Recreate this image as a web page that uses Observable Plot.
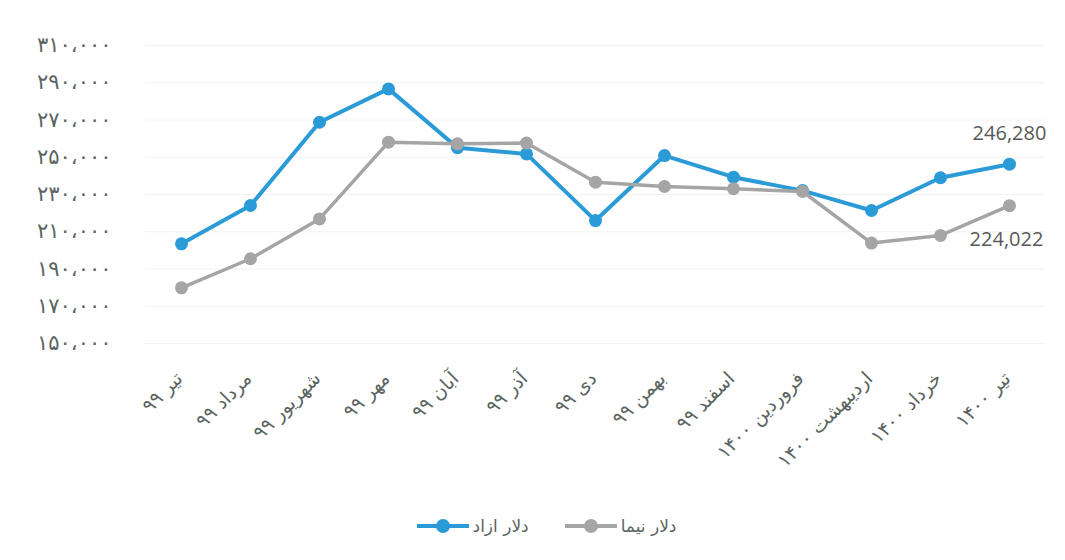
<!DOCTYPE html>
<html>
<head>
<meta charset="utf-8">
<script src="https://cdn.jsdelivr.net/npm/d3@7"></script>
<script src="https://cdn.jsdelivr.net/npm/@observablehq/plot@0.6"></script>
<style>
  html, body { margin: 0; padding: 0; background: #fff; }
  #chart { width: 1065px; }
  .legend { display: flex; justify-content: center; align-items: center; gap: 36px; margin-top: 16px;
    font-family: "DejaVu Sans", sans-serif; font-size: 17px; color: #5b6461; padding-left: 28px; }
  .item { display: flex; align-items: center; gap: 4px; }
  .sw { position: relative; width: 52px; height: 14px; }
  .sw .ln { position: absolute; left: 0; right: 0; top: 5px; height: 4px; }
  .sw .pt { position: absolute; left: 19px; top: 0; width: 14px; height: 14px; border-radius: 50%; }
</style>
</head>
<body>
<div id="chart"></div>
<script>
const months = ["تیر ۹۹","مرداد ۹۹","شهریور ۹۹","مهر ۹۹","آبان ۹۹","آذر ۹۹","دی ۹۹","بهمن ۹۹","اسفند ۹۹","فروردین ۱۴۰۰","اردیبهشت ۱۴۰۰","خرداد ۱۴۰۰","تیر ۱۴۰۰"];
const azad = [203500, 224100, 268800, 286700, 255100, 251800, 216000, 250900, 239300, 232100, 221400, 239000, 246280];
const nima = [179900, 195500, 216900, 258100, 257200, 257600, 236600, 234300, 233100, 231600, 203900, 208000, 224022];
const yTicks = [150000, 170000, 190000, 210000, 230000, 250000, 270000, 290000, 310000];
const yTickLabels = ["۱۵۰،۰۰۰","۱۷۰،۰۰۰","۱۹۰،۰۰۰","۲۱۰،۰۰۰","۲۳۰،۰۰۰","۲۵۰،۰۰۰","۲۷۰،۰۰۰","۲۹۰،۰۰۰","۳۱۰،۰۰۰"];
const seriesNames = ["دلار ازاد", "دلار نیما"];
const colors = ["#2b9bd8", "#a5a5a5"];

const azadData = months.map((m, i) => ({month: m, value: azad[i]}));
const nimaData = months.map((m, i) => ({month: m, value: nima[i]}));
const lastAzad = [azadData[azadData.length - 1]];
const lastNima = [nimaData[nimaData.length - 1]];
const fmt = d3.format(",");

const chart = Plot.plot({
  width: 1065,
  height: 500,
  marginTop: 45,
  marginBottom: 157,
  marginLeft: 145,
  marginRight: 20,
  style: {fontFamily: "DejaVu Sans, sans-serif", background: "#fff"},
  x: {type: "point", domain: months, padding: 0.5, label: null},
  y: {domain: [150000, 310000], label: null},
  marks: [
    Plot.gridY(yTicks, {stroke: "#f2f2f2", strokeOpacity: 1, strokeWidth: 1}),
    Plot.axisY(yTicks, {tickSize: 0, tickPadding: 34, fontSize: 21, fill: "#5b6461",
      tickFormat: d => yTickLabels[yTicks.indexOf(d)], label: null,
      style: {letterSpacing: "4px"}}),
    Plot.axisX({tickRotate: -45, tickSize: 0, tickPadding: 32, fontSize: 19, fill: "#5b6461", label: null, dx: -2}),
    Plot.line(azadData, {x: "month", y: "value", stroke: colors[0], strokeWidth: 4}),
    Plot.dot(azadData, {x: "month", y: "value", r: 6.5, fill: colors[0]}),
    Plot.line(nimaData, {x: "month", y: "value", stroke: colors[1], strokeWidth: 3.5}),
    Plot.dot(nimaData, {x: "month", y: "value", r: 6.5, fill: colors[1]}),
    Plot.text(lastAzad, {x: "month", y: "value", text: d => fmt(d.value), dy: -31,
      fontSize: 20, fill: "#595959", fontFamily: "Open Sans, sans-serif"}),
    Plot.text(lastNima, {x: "month", y: "value", text: d => fmt(d.value), dy: 34, dx: -3,
      fontSize: 20, fill: "#595959", fontFamily: "Open Sans, sans-serif"})
  ]
});
document.getElementById("chart").appendChild(chart);

const legend = document.createElement("div");
legend.className = "legend";
[0, 1].forEach(i => {
  const item = document.createElement("div");
  item.className = "item";
  item.innerHTML = `<div class="sw"><div class="ln" style="background:${colors[i]}"></div><div class="pt" style="background:${colors[i]}"></div></div><span>${seriesNames[i]}</span>`;
  legend.appendChild(item);
});
document.getElementById("chart").appendChild(legend);
</script>
</body>
</html>
